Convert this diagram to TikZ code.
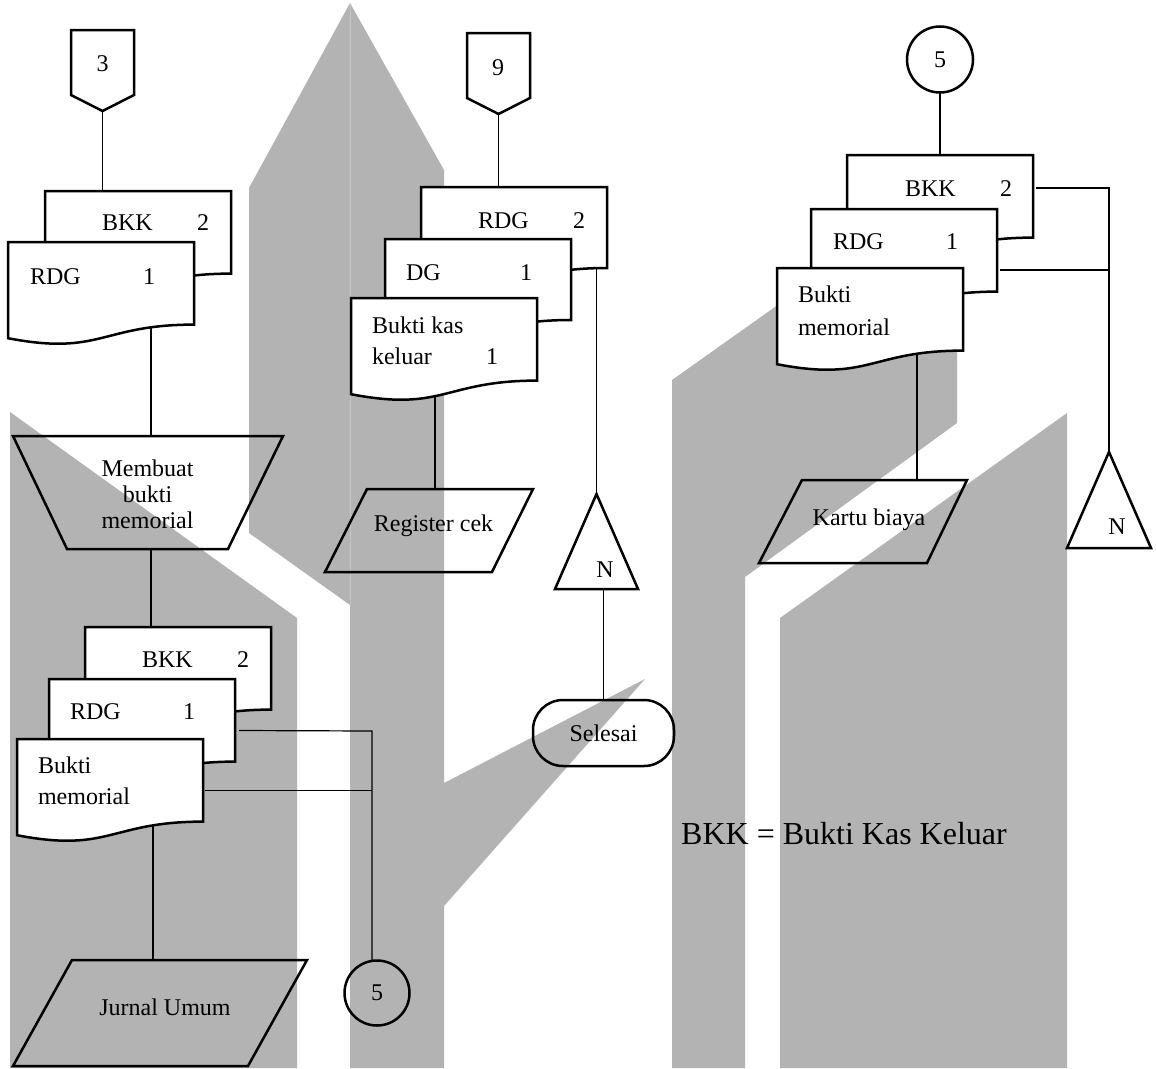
\documentclass[tikz,border=0pt]{standalone}
\usepackage{fontspec}
\setmainfont{Liberation Serif}
\usetikzlibrary{calc}
\definecolor{backgrey}{RGB}{179,179,179}
\definecolor{seamgrey}{RGB}{196,196,196}

% invisible frame of a paper document: name, left x, top y, height
\newcommand{\docslot}[4]{%
  \node[holder, minimum width=186pt, minimum height=#4pt] (#1) at (#2,#3) {};}
% white document with a wavy lower edge drawn on its frame: name, height
\newcommand{\docdraw}[2]{%
  \path[docpaper] (#1.north west) -- (#1.north east)
    -- ($(#1.north east)+(0,0.802*#2)$)
    .. controls ($(#1.north)+(0,0.802*#2)$) and ($(#1.north)+(0,1.108*#2)$)
    .. ($(#1.north west)+(0,0.934*#2)$) -- cycle;}

\begin{document}
\begin{tikzpicture}[x=1pt,y=-1pt,
  holder/.style={inner sep=0pt, outer sep=0pt, anchor=north west},
  shapeline/.style={draw=black, line width=2.5pt, line join=miter},
  docpaper/.style={shapeline, fill=white},
  wire/.style={draw=black, line width=1.2pt},
  backfill/.style={fill=backgrey, draw=none},
  lblfont/.style={font=\fontsize{24}{28}\selectfont},
  txt/.style={lblfont, inner sep=0pt, outer sep=0pt, anchor=base},
  txtw/.style={txt, anchor=base west},
  big/.style={font=\fontsize{32}{38}\selectfont, inner sep=0pt, anchor=base west},
]
\useasboundingbox[fill=white] (0,0) rectangle (1156,1068);

% grey backdrop
\path[backfill] (10,412) -- (297,618) -- (297,1068) -- (10,1068) -- cycle;
\path[backfill] (249,188) -- (350,3) -- (350,605) -- (249,533) -- cycle;
\path[backfill] (350,3) -- (444,170) -- (444,783) -- (645,679) -- (444,906)
  -- (444,1068) -- (350,1068) -- cycle;
\draw[seamgrey, line width=0.8pt] (350,4) -- (350,605);
\path[backfill] (672,380) -- (957,178) -- (957,423) -- (745,577) -- (745,1068)
  -- (672,1068) -- cycle;
\path[backfill] (780,618) -- (1067,413) -- (1067,1068) -- (780,1068) -- cycle;

% frames of the documents
\docslot{bkk1}{45}{191}{103}
\docslot{rdg1}{8}{242}{103}
\docslot{bkk2}{85}{627}{103}
\docslot{rdg2}{49}{679}{103}
\docslot{bm2}{17}{739}{103}
\docslot{rdg3}{421}{187}{101}
\docslot{dg3}{385}{239}{101}
\docslot{bkk3}{351}{298}{103}
\docslot{bkk4}{847}{155}{103}
\docslot{rdg4}{811}{209}{103}
\docslot{bm4}{777}{268}{103}

% frames of the other symbols
\node[holder, minimum width=63pt, minimum height=81pt] (off3) at (71,30) {};
\node[holder, minimum width=63pt, minimum height=81pt] (off9) at (467,33) {};
\node[holder, minimum width=270pt, minimum height=113pt] (mk) at (13,436) {};
\node[holder, minimum width=208pt, minimum height=83pt] (reg) at (325,489) {};
\node[holder, minimum width=208pt, minimum height=83pt] (kar) at (759,480) {};
\node[holder, minimum width=294pt, minimum height=106pt] (jur) at (13,960) {};
\node[holder, minimum width=83pt, minimum height=95pt] (tri1) at (555,494) {};
\node[holder, minimum width=84pt, minimum height=96pt] (tri2) at (1067,452) {};
\node[shapeline, lblfont, rounded corners=30pt, minimum width=141pt,
  minimum height=66pt, inner sep=0pt, outer sep=0pt] (stop) at (603.5,733) {Selesai};
\node[shapeline, lblfont, circle, minimum size=65pt, inner sep=0pt,
  outer sep=0pt] (con5a) at (377,993) {5};
\node[shapeline, lblfont, circle, minimum size=66pt, inner sep=0pt,
  outer sep=0pt] (con5b) at (940,59.5) {5};

% connectors
\draw[wire] (off3.south) -- (off3.south |- bkk1.north);
\coordinate (a1) at ($(mk.north)+(3,0)$);
\draw[wire] (a1) -- (a1 |- rdg1.center);
\coordinate (a2) at ($(mk.south)+(3,0)$);
\draw[wire] (a2) -- (a2 |- bkk2.north);
\coordinate (a3) at ($(jur.north west)+(140,0)$);
\draw[wire] (a3) -- (a3 |- bm2.center);
\coordinate (bus) at (372,731);
\draw[wire] ($(rdg2.east)+(4,0)$) -- (bus) -- (bus |- con5a.north);
\draw[wire] ($(bm2.east)+(2,0)$) -- (bm2.east -| bus);
\draw[wire] (off9.south) -- (off9.south |- rdg3.north);
\coordinate (a4) at ($(reg.north west)+(110,0)$);
\draw[wire] (a4) -- (a4 |- bkk3.center);
\draw[wire] (tri1.north) -- (tri1.north |- rdg3.center);
\draw[wire] (stop.north) -- (stop.north |- tri1.south);
\draw[wire] (con5b.south) -- (bkk4.north);
\coordinate (a5) at ($(bkk4.north east)+(3,33)$);
\draw[wire] (a5) -| (tri2.north);
\coordinate (a6) at ($(rdg4.north east)+(3,61)$);
\draw[wire] (a6) -- (a6 -| tri2.north);
\coordinate (a7) at ($(kar.north west)+(158,0)$);
\draw[wire] (a7) -- (a7 |- bm4.center);

% documents, back to front
\docdraw{bkk1}{103}
\docdraw{rdg1}{103}
\docdraw{bkk2}{103}
\docdraw{rdg2}{103}
\docdraw{bm2}{103}
\docdraw{rdg3}{101}
\docdraw{dg3}{101}
\docdraw{bkk3}{103}
\docdraw{bkk4}{103}
\docdraw{rdg4}{103}
\docdraw{bm4}{103}

% off-page connectors
\draw[shapeline] (off3.north west) -- (off3.north east) -- ($(off3.north east)+(0,65)$)
  -- (off3.south) -- ($(off3.north west)+(0,65)$) -- cycle;
\draw[shapeline] (off9.north west) -- (off9.north east) -- ($(off9.north east)+(0,65)$)
  -- (off9.south) -- ($(off9.north west)+(0,65)$) -- cycle;
% manual operation
\draw[shapeline] (mk.north west) -- (mk.north east) -- ($(mk.south east)+(-55,0)$)
  -- ($(mk.south west)+(54,0)$) -- cycle;
% journals and registers
\draw[shapeline] ($(reg.north west)+(42,0)$) -- (reg.north east)
  -- ($(reg.south east)+(-41,0)$) -- (reg.south west) -- cycle;
\draw[shapeline] ($(kar.north west)+(43,0)$) -- (kar.north east)
  -- ($(kar.south east)+(-40,0)$) -- (kar.south west) -- cycle;
\draw[shapeline] ($(jur.north west)+(59,0)$) -- (jur.north east)
  -- ($(jur.south east)+(-59,0)$) -- (jur.south west) -- cycle;
% files
\draw[shapeline] (tri1.north) -- (tri1.south east) -- (tri1.south west) -- cycle;
\draw[shapeline] (tri2.north) -- (tri2.south east) -- (tri2.south west) -- cycle;

% labels
\node[txt] (l3) at (102.5,71) {3};
\node[txt] (l9) at (498,75) {9};
\node[txtw] (t1) at ($(bkk1.north west)+(57,39)$) {BKK};
\node[txt] (t2) at ($(bkk1.north west)+(158,39)$) {2};
\node[txtw] (t3) at ($(rdg1.north west)+(22,42)$) {RDG};
\node[txt] (t4) at ($(rdg1.north west)+(141,42)$) {1};
\node[txt] (t5) at (147.5,476) {Membuat};
\node[txt] (t6) at (147.5,502) {bukti};
\node[txt] (t7) at (147.5,528) {memorial};
\node[txtw] (t8) at ($(bkk2.north west)+(57,40)$) {BKK};
\node[txt] (t9) at ($(bkk2.north west)+(158,40)$) {2};
\node[txtw] (t10) at ($(rdg2.north west)+(21,40)$) {RDG};
\node[txt] (t11) at ($(rdg2.north west)+(140,40)$) {1};
\node[txtw] (t12) at ($(bm2.north west)+(21,34)$) {Bukti};
\node[txtw] (t13) at ($(bm2.north west)+(21,65)$) {memorial};
\node[txt] (t14) at (165,1015) {Jurnal Umum};
\node[txtw] (t15) at ($(rdg3.north west)+(57,41)$) {RDG};
\node[txt] (t16) at ($(rdg3.north west)+(158,41)$) {2};
\node[txtw] (t17) at ($(dg3.north west)+(21,41)$) {DG};
\node[txt] (t18) at ($(dg3.north west)+(141,41)$) {1};
\node[txtw] (t19) at ($(bkk3.north west)+(21,35)$) {Bukti kas};
\node[txtw] (t20) at ($(bkk3.north west)+(21,66)$) {keluar};
\node[txt] (t21) at ($(bkk3.north west)+(141,66)$) {1};
\node[txt] (t22) at (433.5,531) {Register cek};
\node[txt] (t23) at (605,577) {N};
\node[txtw] (t24) at ($(bkk4.north west)+(58,41)$) {BKK};
\node[txt] (t25) at ($(bkk4.north west)+(159,41)$) {2};
\node[txtw] (t26) at ($(rdg4.north west)+(22,40)$) {RDG};
\node[txt] (t27) at ($(rdg4.north west)+(141,40)$) {1};
\node[txtw] (t28) at ($(bm4.north west)+(21,34)$) {Bukti};
\node[txtw] (t29) at ($(bm4.north west)+(21,67)$) {memorial};
\node[txt] (t30) at (869,525) {Kartu biaya};
\node[txt] (t31) at (1117,534) {N};
\node[big] (legend) at (681,844) {BKK = Bukti Kas Keluar};
\end{tikzpicture}
\end{document}
